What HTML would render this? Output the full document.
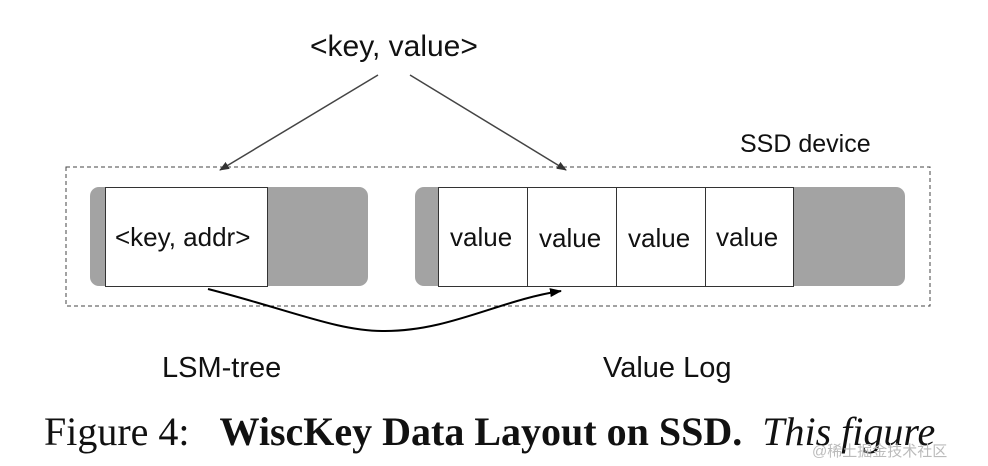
<!DOCTYPE html>
<html><head><style>
body{margin:0;width:988px;height:466px;background:#fff;overflow:hidden;position:relative;font-family:"Liberation Sans",sans-serif}
.t{position:absolute;white-space:nowrap;color:#111}
</style></head><body>
<svg width="988" height="466" style="position:absolute;left:0;top:0">
<defs><marker id="a" markerWidth="10" markerHeight="8" refX="9" refY="4" orient="auto" markerUnits="userSpaceOnUse"><path d="M0,0 L10,4 L0,8 z" fill="#333"/></marker>
<marker id="b" markerWidth="12" markerHeight="9" refX="11" refY="4.5" orient="auto" markerUnits="userSpaceOnUse"><path d="M0,0 L12,4.5 L0,9 z" fill="#000"/></marker></defs>
<rect x="66" y="167" width="864" height="139" fill="none" stroke="#444" stroke-dasharray="4,3"/>
<rect x="90" y="187" width="278" height="99" rx="9" fill="#a3a3a3"/>
<rect x="105.5" y="187.5" width="162" height="99" fill="#fff" stroke="#333"/>
<rect x="415" y="187" width="490" height="99" rx="9" fill="#a3a3a3"/>
<rect x="438.5" y="187.5" width="89" height="99" fill="#fff" stroke="#333"/>
<rect x="527.5" y="187.5" width="89" height="99" fill="#fff" stroke="#333"/>
<rect x="616.5" y="187.5" width="89" height="99" fill="#fff" stroke="#333"/>
<rect x="705.5" y="187.5" width="88" height="99" fill="#fff" stroke="#333"/>
<line x1="378" y1="75" x2="220" y2="170" stroke="#444" stroke-width="1.5" marker-end="url(#a)"/>
<line x1="410" y1="75" x2="566" y2="170" stroke="#444" stroke-width="1.5" marker-end="url(#a)"/>
<path d="M208,289 C290,310 340,332 385,331 C450,331 500,300 561,291" fill="none" stroke="#000" stroke-width="2" marker-end="url(#b)"/>
</svg>
<div class="t" style="left:310px;top:30px;font-size:30px">&lt;key, value&gt;</div>
<div class="t" style="left:740px;top:130px;font-size:25px">SSD device</div>
<div class="t" style="left:115px;top:222px;font-size:26px">&lt;key, addr&gt;</div>
<div class="t" style="left:450px;top:222px;font-size:26px">value</div>
<div class="t" style="left:539px;top:223px;font-size:26px">value</div>
<div class="t" style="left:628px;top:223px;font-size:26px">value</div>
<div class="t" style="left:716px;top:222px;font-size:26px">value</div>
<div class="t" style="left:162px;top:352px;font-size:29px">LSM-tree</div>
<div class="t" style="left:603px;top:352px;font-size:29px">Value Log</div>
<div class="t" style="left:44px;top:408px;font-size:40px;font-family:'Liberation Serif',serif">Figure 4:&nbsp;&nbsp;&nbsp;<b>WiscKey Data Layout on SSD.</b>&nbsp;&nbsp;<i>This figure</i></div>
<div class="t" style="left:812px;top:440px;font-size:15px;color:#bbb;font-family:'Liberation Sans','Noto Sans CJK SC',sans-serif">@稀土掘金技术社区</div>
</body></html>
